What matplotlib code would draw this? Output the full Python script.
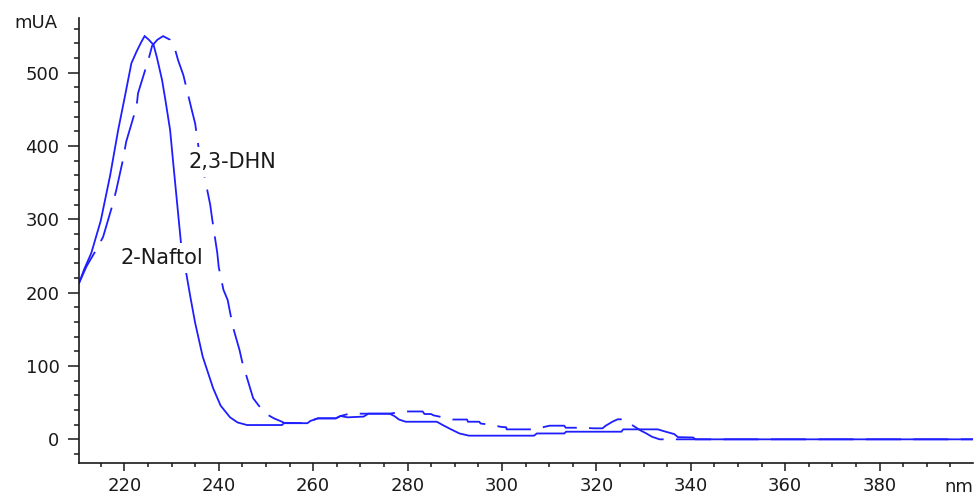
import matplotlib
matplotlib.use("Agg")
import matplotlib.pyplot as plt
from matplotlib.ticker import MultipleLocator

# Absorbance spectra (wavelength in nm, absorbance in mAU)
naftol_nm = [210.4, 211.5, 213.0, 215.0, 217.0, 218.7, 220.1, 221.5, 222.6, 223.6,
             224.3, 225.2, 226.2, 226.9, 228.0, 228.7, 229.7, 230.3, 232.0, 234.0,
             235.0, 236.6, 238.8, 240.4, 242.4, 244.0, 246.0, 253.4, 253.8, 258.8,
             259.4, 261.0, 264.8, 265.8, 267.3, 270.7, 271.7, 276.2, 277.2, 278.2,
             279.6, 286.2, 287.6, 289.1, 291.0, 293.0, 306.8, 307.4, 313.2, 313.6,
             325.3, 325.7, 333.0, 334.7, 336.5, 337.3, 340.5, 341.0, 399.8]
naftol_mau = [213, 232, 254, 298, 360, 422, 467, 513, 529, 542,
              550, 545, 538, 521, 490, 463, 422, 381, 268, 194,
              159, 113, 70, 46, 30, 23, 19.5, 19.5, 22, 22,
              25, 28.6, 28.6, 31.8, 30, 31, 35, 35, 31.8, 27,
              24, 24, 19, 14, 8, 5, 5, 8, 8, 10.4,
              10.4, 13.6, 13.6, 10.4, 7.2, 3, 2.5, 0, 0]

dhn_nm = [210.4, 212.0, 214.0, 215.5, 217.6, 218.3, 219.7, 220.4, 222.6, 222.9,
          225.2, 225.9, 227.0, 228.2, 229.7, 230.7, 231.4, 232.5, 234.3, 235.0,
          235.8, 237.0, 238.2, 238.6, 239.7, 240.0, 241.0, 241.9, 242.5, 243.2,
          244.4, 245.0, 247.3, 249.2, 250.5, 251.7, 253.4, 253.8, 258.8, 259.4,
          261.0, 264.8, 265.8, 267.7, 276.2, 277.7, 279.2, 283.2, 283.6, 285.0,
          285.5, 287.5, 289.6, 292.6, 292.8, 295.2, 295.5, 297.5, 299.8, 300.9,
          301.0, 307.3, 309.0, 310.1, 313.2, 313.5, 317.0, 319.5, 321.3, 322.0,
          323.4, 324.5, 325.9, 326.7, 327.2, 329.4, 330.6, 331.8, 333.4, 399.8]
dhn_mau = [213, 236, 258, 276, 322, 340, 381, 406, 454, 472,
           520, 537, 545, 550, 545, 533, 517, 497, 449, 431,
           395, 358, 320, 301, 254, 235, 204, 190, 170, 149,
           122, 105, 56, 40, 33, 28.6, 24, 22.5, 22, 25,
           28.6, 28.6, 31.8, 35, 35, 36.5, 38, 38, 34.5, 34.5,
           32.7, 30, 27, 27, 24, 24, 21.5, 20, 17, 16.4,
           13.6, 13.6, 17, 18.6, 18.6, 15.8, 15.8, 15, 15, 18.6,
           24, 27.3, 27.3, 24, 21, 12, 8, 3.5, 0, 0]

curve_labels = ["2-Naftol", "2,3-DHN"]
x_major = [220, 240, 260, 280, 300, 320, 340, 360, 380]
y_major = [0, 100, 200, 300, 400, 500]

BLUE = "#1e1eff"
INK = "#1a1a1a"
FONT = "DejaVu Sans"

fig = plt.figure(figsize=(9.77, 4.95), dpi=100)
ax = fig.add_axes([79 / 977, 1 - 463.3 / 495, (973 - 79) / 977, (463.3 - 18) / 495])

ax.plot(naftol_nm, naftol_mau, color=BLUE, lw=1.3, solid_joinstyle="miter", zorder=2)
ax.plot(dhn_nm, dhn_mau, color=BLUE, lw=1.3, linestyle=(0, (19.5, 6.8)), zorder=2)

ax.set_xlim(210.4, 399.8)
ax.set_ylim(-32.7, 574.7)

for side in ("top", "right"):
    ax.spines[side].set_visible(False)
for side in ("left", "bottom"):
    ax.spines[side].set_linewidth(1.2)
    ax.spines[side].set_color(INK)

ax.set_xticks(x_major)
ax.set_yticks(y_major)
ax.xaxis.set_minor_locator(MultipleLocator(5))
ax.yaxis.set_minor_locator(MultipleLocator(20))
ax.tick_params(axis="y", which="major", length=8, width=1.1, pad=6, color=INK,
               labelsize=13, labelcolor=INK)
ax.tick_params(axis="y", which="minor", length=3.8, width=1.1, color=INK)
ax.tick_params(axis="x", which="major", length=6, width=1.1, pad=4, color=INK,
               labelsize=13, labelcolor=INK)
ax.tick_params(axis="x", which="minor", length=3, width=1.1, color=INK)
for lab in ax.get_xticklabels() + ax.get_yticklabels():
    lab.set_family(FONT)

# Curve captions sit on a white patch that hides the trace behind them
label_box = dict(boxstyle="square,pad=0.25", fc="white", ec="none")
ax.text(219.2, 247, curve_labels[0], fontsize=15, color=INK, family=FONT,
        ha="left", va="center", bbox=label_box, zorder=3)
ax.text(233.6, 378, curve_labels[1], fontsize=15, color=INK, family=FONT,
        ha="left", va="center", bbox=label_box, zorder=3)

fig.text(58 / 977, 1 - 23 / 495, "mUA", fontsize=13, color=INK, family=FONT,
         ha="right", va="center")
fig.text(973 / 977, 1 - 492 / 495, "nm", fontsize=13, color=INK, family=FONT,
         ha="right", va="baseline")

fig.savefig("out.png", dpi=100)
